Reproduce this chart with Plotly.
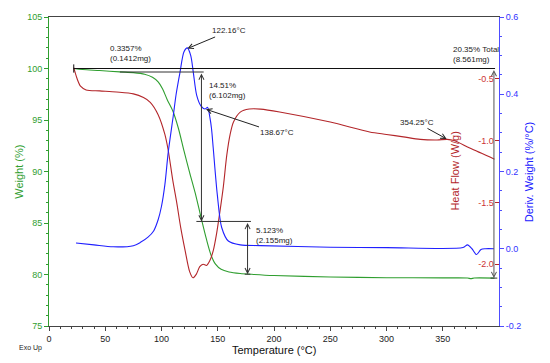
import numpy as np
import plotly.graph_objects as go

# ---------------- data ----------------
temp_weight = [22, 30, 45, 63, 75, 85, 92, 97, 101, 105, 110, 115, 120, 125, 130, 135, 140,
               144, 148, 153, 160, 170, 180, 200, 250, 300, 350, 372, 375, 378, 396]
weight = [100.0, 99.9, 99.8, 99.67, 99.6, 99.45, 99.15, 98.7, 98.0, 97.0, 95.9, 94.2, 92.0,
          89.9, 87.9, 85.6, 83.4, 81.9, 81.0, 80.5, 80.25, 80.1, 80.02, 79.9, 79.76, 79.69,
          79.67, 79.66, 79.6, 79.66, 79.65]

temp_hf = [22, 25, 28, 33, 45, 60, 75, 84, 90, 97, 103, 106, 110, 113.5, 117, 121, 125, 128,
           131, 134, 137, 140, 143, 146, 149, 152, 155, 158, 161, 164, 170, 178, 188, 205,
           250, 285, 300, 315, 330, 345, 354, 360, 374, 396]
heat_flow = [-0.41, -0.50, -0.56, -0.59, -0.598, -0.607, -0.622, -0.652, -0.69, -0.79, -0.95,
             -1.08, -1.32, -1.50, -1.70, -1.89, -2.06, -2.11, -2.08, -2.02, -2.0, -2.01, -1.97,
             -1.89, -1.75, -1.57, -1.37, -1.12, -0.95, -0.85, -0.77, -0.745, -0.745, -0.768,
             -0.85, -0.93, -0.95, -0.97, -0.99, -0.995, -0.99, -1.0, -1.06, -1.15]

temp_dtg = [24, 40, 57, 75, 81, 88, 93, 97, 100, 103, 106, 110.5, 113, 116.4, 120, 123, 126,
            128.3, 131.3, 135, 138.67, 141, 143, 144.5, 146, 149.6, 153.5, 159.4, 170, 188,
            250, 300, 368, 372, 376, 380, 384, 388, 395.5]
deriv = [0.015, 0.01, 0.005, 0.008, 0.016, 0.03, 0.046, 0.075, 0.11, 0.166, 0.25, 0.345, 0.40,
         0.456, 0.51, 0.52, 0.50, 0.456, 0.397, 0.37, 0.362, 0.366, 0.34, 0.31, 0.26, 0.14,
         0.055, 0.02, 0.01, 0.008, 0.004, 0.003, 0.003, 0.01, 0.0, -0.015, -0.002, 0.0, 0.0]

x_ticks = [0, 50, 100, 150, 200, 250, 300, 350, 400]
weight_ticks = [75, 80, 85, 90, 95, 100, 105]
hf_ticks = [-0.5, -1.0, -1.5, -2.0]
hf_tick_text = ["-0.5", "-1.0", "-1.5", "-2.0"]
dtg_ticks = [-0.2, 0.0, 0.2, 0.4, 0.6]
dtg_tick_text = ["-0.2", "0.0", "0.2", "0.4", "0.6"]

# step analysis (weight levels in %, temperatures in degC)
base_start, base_end = 22, 396.5
step_levels = [100.0, 99.66, 85.15, 80.03]
step_temps = [63, 135.5, 176.5]
step_labels = ["0.3357%<br>(0.1412mg)", "14.51%<br>(6.102mg)", "5.123%<br>(2.155mg)"]
step_label_pos = [(52.2, 101.49), (140.2, 97.88), (182.2, 83.78)]
total_temp, total_level = 395.5, 79.65
total_label = "20.35% Total<br>(8.561mg)"
total_label_pos = (357.3, 101.32)

peak_temps = [122.16, 138.67, 354.25]
peak_labels = ["122.16°C", "138.67°C", "354.25°C"]
peak_offsets = [(43, -18), (72, 24), (-31, -17)]

GREEN = "#2f9e2f"
RED = "#b3262a"
BLUE = "#2020ff"
FONT = "Arial, Liberation Sans, sans-serif"

fig = go.Figure()
fig.add_trace(go.Scatter(x=temp_weight, y=weight, mode="lines", yaxis="y",
                         line=dict(color=GREEN, width=1.1, shape="spline", smoothing=0.8)))
fig.add_trace(go.Scatter(x=temp_hf, y=heat_flow, mode="lines", yaxis="y2",
                         line=dict(color=RED, width=1.1, shape="spline", smoothing=0.8)))
fig.add_trace(go.Scatter(x=temp_dtg, y=deriv, mode="lines", yaxis="y3",
                         line=dict(color=BLUE, width=1.1, shape="spline", smoothing=0.8)))

shapes = []
LC = "#333333"
# baseline at 100%
shapes.append(dict(type="line", xref="x", yref="y", x0=base_start, x1=base_end,
                   y0=step_levels[0], y1=step_levels[0], line=dict(color="#111", width=1)))
shapes.append(dict(type="line", xref="x", yref="y", x0=base_start, x1=base_start,
                   y0=step_levels[0] + 0.4, y1=step_levels[0] - 0.4, line=dict(color="#111", width=1)))
# step level lines
shapes.append(dict(type="line", xref="x", yref="y", x0=step_temps[0], x1=step_temps[1] + 2,
                   y0=step_levels[1], y1=step_levels[1], line=dict(color=LC, width=1)))
shapes.append(dict(type="line", xref="x", yref="y", x0=step_temps[1] - 4.5, x1=step_temps[2] + 3,
                   y0=step_levels[2], y1=step_levels[2], line=dict(color=LC, width=1)))
shapes.append(dict(type="line", xref="x", yref="y", x0=step_temps[2] - 2.5, x1=step_temps[2] + 2.5,
                   y0=step_levels[3], y1=step_levels[3], line=dict(color=LC, width=1)))
shapes.append(dict(type="line", xref="x", yref="y", x0=total_temp - 3, x1=total_temp + 3,
                   y0=total_level, y1=total_level, line=dict(color=LC, width=1)))

annotations = []
# vertical double arrows for steps
for i, t in enumerate(step_temps):
    annotations.append(dict(x=t, y=step_levels[i + 1], ax=t, ay=step_levels[i], xref="x", yref="y",
                            axref="x", ayref="y", text="", showarrow=True, arrowside="end+start",
                            arrowhead=5, startarrowhead=5, arrowsize=1, startarrowsize=1,
                            arrowwidth=1, arrowcolor=LC, standoff=0, startstandoff=0))
    lx, ly = step_label_pos[i]
    annotations.append(dict(x=lx, y=ly, xref="x", yref="y", text=step_labels[i], showarrow=False,
                            xanchor="left", yanchor="middle", align="left",
                            font=dict(family=FONT, size=8, color="#222")))
annotations.append(dict(x=total_temp, y=total_level, ax=total_temp, ay=step_levels[0], xref="x",
                        yref="y", axref="x", ayref="y", text="", showarrow=True,
                        arrowside="end+start", arrowhead=5, startarrowhead=5, arrowsize=1,
                        startarrowsize=1, arrowwidth=1, arrowcolor="#555", standoff=0,
                        startstandoff=0))
annotations.append(dict(x=total_label_pos[0], y=total_label_pos[1], xref="x", yref="y",
                        text=total_label, showarrow=False, xanchor="left", yanchor="middle",
                        align="left", font=dict(family=FONT, size=8, color="#222")))

# peak annotations
peak_axes = ["y3", "y3", "y2"]
peak_series = [(temp_dtg, deriv), (temp_dtg, deriv), (temp_hf, heat_flow)]
for i, t in enumerate(peak_temps):
    xs, ys = peak_series[i]
    yv = float(np.interp(t, xs, ys))
    annotations.append(dict(x=t, y=yv, xref="x", yref=peak_axes[i], text=peak_labels[i],
                            showarrow=True, ax=peak_offsets[i][0], ay=peak_offsets[i][1],
                            arrowhead=5, arrowsize=1, arrowwidth=1, arrowcolor="#222",
                            standoff=1, font=dict(family=FONT, size=8, color="#222")))

# axis titles & misc text
annotations.append(dict(x=-0.086, y=0.5, xref="paper", yref="paper", text="Weight (%)",
                        textangle=-90, showarrow=False, font=dict(family=FONT, size=11, color=GREEN)))
annotations.append(dict(x=0.918, y=0.5, xref="paper", yref="paper", text="Heat Flow (W/g)",
                        textangle=-90, showarrow=False, font=dict(family=FONT, size=11, color=RED)))
annotations.append(dict(x=1.084, y=0.5, xref="paper", yref="paper", text="Deriv. Weight (%/°C)",
                        textangle=-90, showarrow=False, font=dict(family=FONT, size=11, color=BLUE)))
annotations.append(dict(x=0.5, y=-0.079, xref="paper", yref="paper", text="Temperature (°C)",
                        showarrow=False, yanchor="middle",
                        font=dict(family=FONT, size=11, color="#111")))
annotations.append(dict(x=-0.072, y=-0.07, xref="paper", yref="paper", text="Exo Up",
                        showarrow=False, xanchor="left", yanchor="middle",
                        font=dict(family=FONT, size=7, color="#222")))

fig.update_layout(
    width=550, height=363,
    margin=dict(l=49, r=51, t=14, b=37),
    paper_bgcolor="white", plot_bgcolor="white",
    showlegend=False,
    font=dict(family=FONT),
    xaxis=dict(range=[0, 400], tickvals=x_ticks, showgrid=False, zeroline=False,
               showline=True, linecolor="#444", linewidth=1, mirror=True,
               ticks="outside", ticklen=4, tickcolor="#444",
               minor=dict(dtick=10, ticklen=2, tickcolor="#444", ticks="outside"),
               tickfont=dict(family=FONT, size=9, color="#222")),
    yaxis=dict(range=[75, 105], tickvals=weight_ticks, showgrid=False, zeroline=False,
               showline=True, linecolor=GREEN, linewidth=1, ticks="outside", ticklen=4,
               tickcolor=GREEN, minor=dict(dtick=1, ticklen=2, tickcolor=GREEN, ticks="outside"),
               tickfont=dict(family=FONT, size=9, color=GREEN)),
    yaxis2=dict(range=[-2.5, 0], overlaying="y", side="right", anchor="x", tickvals=hf_ticks,
                ticktext=hf_tick_text, showgrid=False, zeroline=False, showline=False,
                ticks="inside", ticklen=4, tickcolor=RED, ticklabelposition="inside",
                tickfont=dict(family=FONT, size=9, color="#cc3333")),
    yaxis3=dict(range=[-0.2, 0.6], overlaying="y", side="right", anchor="x", tickvals=dtg_ticks,
                ticktext=dtg_tick_text, showgrid=False, zeroline=False, showline=True,
                linecolor="#4d4dff", linewidth=1, ticks="outside", ticklen=4, tickcolor="#4d4dff",
                minor=dict(dtick=0.05, ticklen=2, tickcolor="#4d4dff", ticks="outside"),
                tickfont=dict(family=FONT, size=9, color="#3333ff")),
    shapes=shapes,
    annotations=annotations,
)

fig.write_html("out.html", config={"displayModeBar": False},
               post_script="document.body.style.margin='0px';document.body.style.overflow='hidden';")
